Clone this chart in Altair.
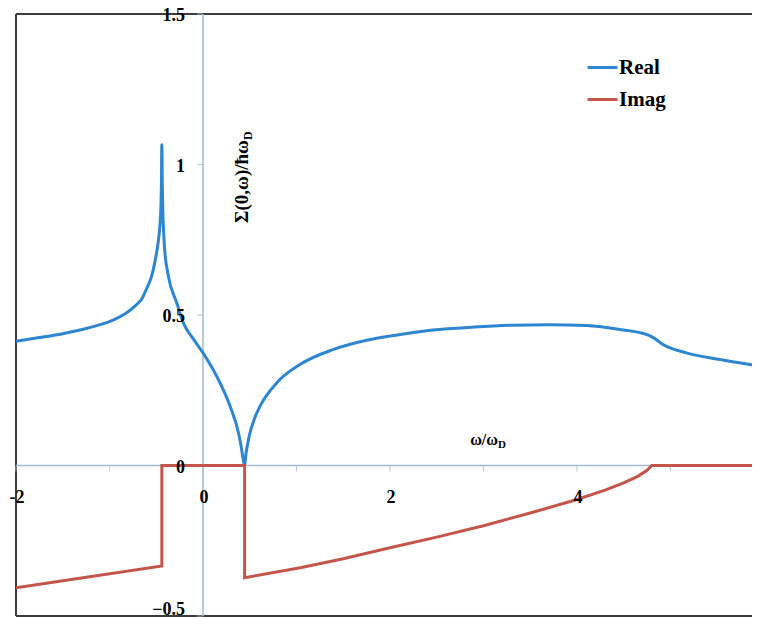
import altair as alt
import pandas as pd

# ---- data ----
real_x = [-2.0, -1.75, -1.5, -1.25, -1.1, -0.95, -0.82, -0.72, -0.65, -0.6, -0.55, -0.51,
          -0.48, -0.46, -0.45, -0.445, -0.44, -0.435, -0.43, -0.42, -0.41, -0.37, -0.28,
          -0.21, -0.1, 0.0, 0.146, 0.29, 0.38, 0.41, 0.43, 0.445, 0.46, 0.48, 0.5, 0.55,
          0.61, 0.79, 1.04, 1.39, 1.75, 2.11, 2.46, 2.9, 3.3, 3.7, 4.1, 4.46, 4.75, 4.82,
          4.92, 5.17, 5.53, 5.96, 6.0]
real_y = [0.413, 0.425, 0.438, 0.455, 0.468, 0.485, 0.507, 0.532, 0.556, 0.59, 0.628, 0.684,
          0.74, 0.80, 0.86, 0.93, 1.066, 0.93, 0.85, 0.77, 0.718, 0.629, 0.54,
          0.474, 0.419, 0.374, 0.297, 0.197, 0.108, 0.06, 0.02, 0.0, 0.04, 0.075, 0.105, 0.155,
          0.197, 0.275, 0.336, 0.385, 0.416, 0.435, 0.45, 0.46, 0.466, 0.468, 0.465, 0.452, 0.435, 0.424,
          0.402, 0.374, 0.352, 0.33, 0.328]

imag_x = [-2.0, -0.44, -0.44, 0.445, 0.445, 1.04, 1.5, 2.0, 2.5, 3.0, 3.5, 4.0, 4.3, 4.5,
          4.65, 4.75, 4.8, 6.0]
imag_y = [-0.406, -0.334, 0.0, 0.0, -0.373, -0.34, -0.31, -0.273, -0.238, -0.2, -0.158, -0.113,
          -0.082, -0.058, -0.036, -0.016, 0.0, 0.0]

series_names = ["Real", "Imag"]
series_colors = ["#2e86d0", "#c4554b"]
x_ticks = [-2, -1, 0, 1, 2, 3, 4, 5]
x_label_values = [-2, 0, 2, 4]
x_label_texts = ["-2", "0", "2", "4"]
y_ticks = [-0.5, 0, 0.5, 1, 1.5]
y_label_values = [0, 0.5, 1, 1.5]
y_label_texts = ["0", "0.5", "1", "1.5"]
y_bottom_value = [-0.5]
y_bottom_text = ["\u22120.5"]
x_domain = [-2, 5.872]
y_domain = [-0.5, 1.5]
frame_y = [1.5, -0.5]
frame_x = [-2]

rows = []
for i, (x, y) in enumerate(zip(real_x, real_y)):
    rows.append({"series": "Real", "x": x, "y": y, "order": i})
for i, (x, y) in enumerate(zip(imag_x, imag_y)):
    rows.append({"series": "Imag", "x": x, "y": y, "order": i})
df = pd.DataFrame(rows)

FONT = "Liberation Serif"
AXIS_COLOR = "#a3bccf"
FRAME_COLOR = "#3c3c3c"
W, H = 736, 602

xs = alt.Scale(domain=x_domain, nice=False, zero=False)
ys = alt.Scale(domain=y_domain, nice=False, zero=False)


def X(field):
    return alt.X(field, type="quantitative", scale=xs, axis=None)


def Y(field):
    return alt.Y(field, type="quantitative", scale=ys, axis=None)


color_enc = alt.Color(
    "series:N",
    scale=alt.Scale(domain=series_names, range=series_colors),
    legend=alt.Legend(orient="none", legendX=570, legendY=37, title=None,
                      symbolType="stroke", symbolSize=900,
                      symbolStrokeWidth=3, labelFont=FONT,
                      labelFontSize=21, labelFontWeight="bold",
                      labelColor="black", labelOffset=0,
                      rowPadding=5, padding=0),
)

real_line = alt.Chart(df[df.series == "Real"]).mark_line(
    strokeWidth=3, clip=True, interpolate="monotone").encode(
    x=X("x"), y=Y("y"), color=color_enc, order="order:Q")
imag_line = alt.Chart(df[df.series == "Imag"]).mark_line(
    strokeWidth=3, clip=True).encode(
    x=X("x"), y=Y("y"), color=color_enc, order="order:Q")

# frame (top, bottom, left)
frame_h = alt.Chart(pd.DataFrame({"v": frame_y})).mark_rule(
    color=FRAME_COLOR, strokeWidth=2).encode(y=Y("v"))
frame_v = alt.Chart(pd.DataFrame({"v": frame_x})).mark_rule(
    color=FRAME_COLOR, strokeWidth=2).encode(x=X("v"))

# axes crossing at the origin
x_axis_line = alt.Chart(pd.DataFrame({"v": [0]})).mark_rule(
    color=AXIS_COLOR, strokeWidth=1.5).encode(y=Y("v"))
y_axis_line = alt.Chart(pd.DataFrame({"v": [0]})).mark_rule(
    color=AXIS_COLOR, strokeWidth=1.5).encode(x=X("v"))

x_tick_df = pd.DataFrame({"x": x_ticks, "y": [0] * len(x_ticks)})
x_tick_marks = alt.Chart(x_tick_df).mark_tick(
    orient="vertical", size=6, thickness=1.2, yOffset=3, color=AXIS_COLOR).encode(
    x=X("x"), y=Y("y"))
y_tick_df = pd.DataFrame({"y": y_ticks, "x": [0] * len(y_ticks)})
y_tick_marks = alt.Chart(y_tick_df).mark_tick(
    orient="horizontal", size=6, thickness=1.2, xOffset=-3, color=AXIS_COLOR).encode(
    x=X("x"), y=Y("y"))

x_lab_df = pd.DataFrame({"x": x_label_values, "y": [0] * len(x_label_values),
                         "t": x_label_texts})
x_labels = alt.Chart(x_lab_df).mark_text(
    font=FONT, fontSize=18, fontWeight="bold", color="black", align="center",
    baseline="middle", dy=32, dx=1).encode(x=X("x"), y=Y("y"), text="t:N")
y_lab_df = pd.DataFrame({"y": y_label_values, "x": [0] * len(y_label_values),
                         "t": y_label_texts})
y_labels = alt.Chart(y_lab_df).mark_text(
    font=FONT, fontSize=18, fontWeight="bold", color="black", align="right",
    baseline="middle", dx=-18, dy=2).encode(x=X("x"), y=Y("y"), text="t:N")
y_bot_df = pd.DataFrame({"y": y_bottom_value, "x": [0], "t": y_bottom_text})
y_bottom_label = alt.Chart(y_bot_df).mark_text(
    font=FONT, fontSize=18, fontWeight="bold", color="black", align="right",
    baseline="middle", dx=-18, dy=-6).encode(x=X("x"), y=Y("y"), text="t:N")

ytitle_main = alt.Chart(pd.DataFrame({"t": ["Σ(0,ω)/ħω"]})).mark_text(
    font=FONT, fontSize=19, fontWeight="bold", angle=270, align="right",
    baseline="middle", color="black").encode(
    x=alt.value(226), y=alt.value(126), text="t:N")
ytitle_sub = alt.Chart(pd.DataFrame({"t": ["D"]})).mark_text(
    font=FONT, fontSize=12, fontWeight="bold", angle=270, align="left",
    baseline="middle", color="black").encode(
    x=alt.value(232), y=alt.value(126), text="t:N")

xtitle_main = alt.Chart(pd.DataFrame({"t": ["ω/ω"]})).mark_text(
    font=FONT, fontSize=16, fontWeight="bold", align="right",
    baseline="alphabetic", color="black").encode(
    x=alt.value(482), y=alt.value(431), text="t:N")
xtitle_sub = alt.Chart(pd.DataFrame({"t": ["D"]})).mark_text(
    font=FONT, fontSize=11, fontWeight="bold", align="left",
    baseline="alphabetic", color="black").encode(
    x=alt.value(482), y=alt.value(434), text="t:N")

chart = alt.layer(
    frame_h, frame_v, x_axis_line, y_axis_line, x_tick_marks, y_tick_marks,
    real_line, imag_line, x_labels, y_labels, y_bottom_label,
    ytitle_main, ytitle_sub, xtitle_main, xtitle_sub,
).properties(
    width=W, height=H,
    autosize=alt.AutoSizeParams(type="none"),
    padding={"left": 8, "top": 6, "right": 0, "bottom": 1},
    background="white",
).configure_view(strokeWidth=0)

chart.save("out.html", embed_options={"renderer": "svg", "actions": False})
